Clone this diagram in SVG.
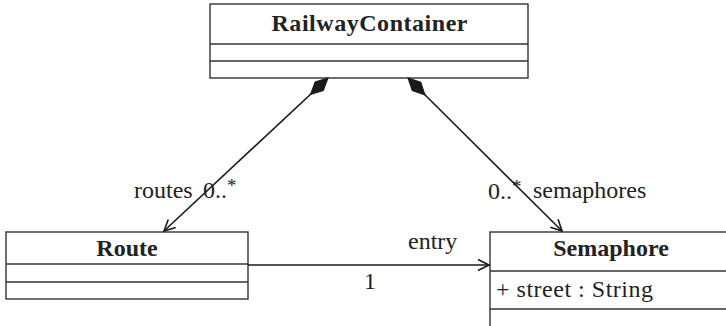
<svg xmlns="http://www.w3.org/2000/svg" width="726" height="326" viewBox="0 0 726 326">
  <style>
    .box { fill: #ffffff; stroke: #333333; stroke-width: 1.4; }
    .div { stroke: #333333; stroke-width: 1.4; }
    .name { font-family: "Liberation Serif", "Times New Roman", serif; font-size: 24px; font-weight: bold; fill: #222222; text-anchor: middle; }
    .lbl { font-family: "Liberation Serif", "Times New Roman", serif; font-size: 24px; fill: #222222; }
    .sup { font-size: 19px; }
    .edge { fill: none; stroke: #1a1a1a; stroke-width: 1.6; }
  </style>
  <defs>
    <marker id="diamond" markerUnits="userSpaceOnUse" markerWidth="30" markerHeight="16" refX="0" refY="0" viewBox="-2 -8 30 16" orient="auto" overflow="visible">
      <polygon points="0,0 12,-6 24,0 12,6" fill="#1a1a1a" stroke="#1a1a1a" stroke-width="1"/>
    </marker>
    <marker id="open" markerUnits="userSpaceOnUse" markerWidth="14" markerHeight="14" refX="0" refY="0" viewBox="-12 -7 14 14" orient="auto" overflow="visible">
      <path d="M-11,-5.5 L0,0 L-11,5.5" fill="none" stroke="#1a1a1a" stroke-width="1.6"/>
    </marker>
  </defs>
  <rect width="726" height="326" fill="#ffffff"/>

  <g id="RailwayContainer">
    <rect class="box" x="210" y="4" width="318" height="74"/>
    <line class="div" x1="210" y1="44" x2="528" y2="44"/>
    <line class="div" x1="210" y1="61" x2="528" y2="61"/>
    <text class="name" x="369.5" y="31" textLength="196" lengthAdjust="spacing">RailwayContainer</text>
  </g>

  <g id="Route">
    <rect class="box" x="6" y="232" width="242" height="67"/>
    <line class="div" x1="6" y1="264" x2="248" y2="264"/>
    <line class="div" x1="6" y1="282" x2="248" y2="282"/>
    <text class="name" x="127" y="256">Route</text>
  </g>

  <g id="Semaphore">
    <rect class="box" x="490" y="232" width="250" height="110"/>
    <line class="div" x1="490" y1="271" x2="740" y2="271"/>
    <line class="div" x1="490" y1="309" x2="740" y2="309"/>
    <text class="name" x="611" y="256">Semaphore</text>
    <text class="lbl" x="496" y="297" textLength="157" lengthAdjust="spacing">+ street : String</text>
  </g>

  <g id="connectors">
    <path class="edge" d="M328,78 L164,231" marker-start="url(#diamond)" marker-end="url(#open)"/>
    <path class="edge" d="M408,78 L562,231" marker-start="url(#diamond)" marker-end="url(#open)"/>
    <path class="edge" d="M248,265 L489,265" marker-end="url(#open)"/>
    <text class="lbl" x="134" y="198">routes</text>
    <text class="lbl" x="203" y="198">0..<tspan class="sup" dy="-6">*</tspan></text>
    <text class="lbl" x="488" y="199">0..<tspan class="sup" dy="-6">*</tspan></text>
    <text class="lbl" x="533" y="198">semaphores</text>
    <text class="lbl" x="408" y="249">entry</text>
    <text class="lbl" x="364" y="289">1</text>
  </g>
</svg>
